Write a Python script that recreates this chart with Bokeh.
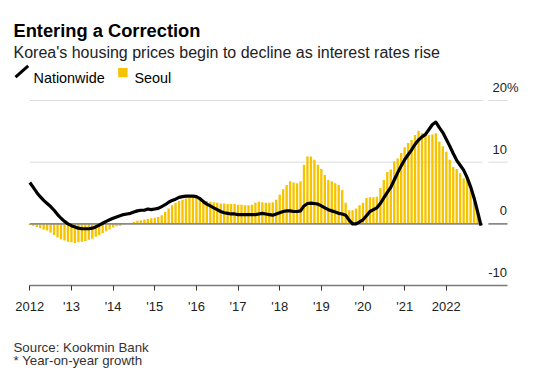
from bokeh.plotting import figure
from bokeh.models import Label, Range1d, FixedTicker, Arrow
from bokeh.core.properties import value
from bokeh.embed import file_html
from bokeh.resources import INLINE

# ---------------- data (YoY %, monthly from Jan 2012) ----------------
start_year = 2012
nationwide = [
    6.7, 5.9, 5.1, 4.4, 3.8, 3.3, 2.8, 2.2, 1.5, 0.9, 0.4, 0.0,
    -0.3, -0.5, -0.7, -0.8, -0.8, -0.8, -0.7, -0.5, -0.2, 0.1, 0.4, 0.65,
    0.9, 1.1, 1.3, 1.5, 1.6, 1.7, 1.9, 2.1, 2.2, 2.2, 2.4, 2.3,
    2.4, 2.5, 2.8, 3.1, 3.5, 3.8, 4.0, 4.3, 4.4, 4.5, 4.5, 4.5,
    4.4, 4.1, 3.6, 3.2, 2.9, 2.6, 2.3, 2.0, 1.8, 1.7, 1.6, 1.6,
    1.5, 1.5, 1.5, 1.5, 1.5, 1.5, 1.6, 1.7, 1.6, 1.5, 1.4, 1.6,
    1.8, 2.0, 2.1, 2.1, 2.0, 2.0, 2.1, 2.9, 3.3, 3.35, 3.3, 3.2,
    2.9, 2.6, 2.3, 2.1, 1.9, 1.7, 1.6, 1.4, 0.6, 0.0, 0.0, 0.3,
    0.65, 1.3, 2.0, 2.3, 2.6, 3.3, 4.2, 5.1, 5.9, 7.1, 8.3, 9.4,
    10.4, 11.2, 12.0, 12.9, 13.6, 14.1, 14.5, 15.3, 16.1, 16.5, 15.6, 14.8,
    13.7, 12.6, 11.4, 10.3, 9.5, 8.7, 7.5, 6.0, 4.2, 2.0, -0.3,
]
seoul = [
    -0.2, -0.3, -0.5, -0.7, -0.9, -1.1, -1.4, -1.8, -2.2, -2.5, -2.7, -2.9,
    -3.0, -3.1, -3.0, -2.9, -2.8, -2.6, -2.4, -2.1, -1.8, -1.5, -1.2, -0.9,
    -0.6, -0.4, -0.3, -0.1, 0.0, 0.1, 0.3, 0.5, 0.6, 0.7, 0.8, 0.9,
    1.0, 1.1, 1.4, 1.9, 2.5, 3.0, 3.4, 3.7, 3.9, 4.1, 4.2, 4.3,
    4.2, 4.0, 3.9, 3.7, 3.6, 3.5, 3.4, 3.3, 3.3, 3.2, 3.2, 3.2,
    3.1, 3.1, 3.0, 3.0, 3.1, 3.4, 3.6, 3.5, 3.4, 3.4, 3.5, 3.9,
    4.7, 5.6, 6.3, 6.9, 6.7, 6.6, 6.9, 9.6, 10.9, 10.9, 10.4, 9.6,
    8.9, 7.9, 7.1, 6.9, 6.6, 6.3, 5.5, 3.4, 2.2, 2.2, 2.5, 3.0,
    3.4, 4.2, 4.3, 4.3, 4.4, 5.8, 7.1, 8.4, 8.8, 10.1, 10.6, 11.5,
    12.4, 13.1, 13.6, 14.4, 15.1, 14.7, 14.4, 14.4, 14.5, 14.7, 13.3, 12.6,
    11.7, 10.4, 9.2, 8.9, 8.2, 7.4, 7.0, 5.5, 3.5, 1.7,
]
tick_years = list(range(2012, 2023))
tick_labels = ["2012", "'13", "'14", "'15", "'16", "'17", "'18", "'19", "'20", "'21", "2022"]
grid_values = [10, 20]
y_label_values = [-10, 0, 10, 20]
y_label_texts = ["-10", "0", "10", "20"]

x_nat = [start_year + i / 12 for i in range(len(nationwide))]
x_seo = [start_year + i / 12 for i in range(len(seoul))]

# ---------------- layout constants (frame = whole figure) ----------------
W, H = 534, 370
PX_YEAR = 41.65          # pixels per year
PX_UNIT = 6.167          # pixels per percentage point
X_ORIGIN_PX = 29.3       # page x of Jan 2012
Y_AXIS_PX = 285.0        # page y of -10 %
x0 = 2012 - X_ORIGIN_PX / PX_YEAR
y0 = -10 - (H - Y_AXIS_PX) / PX_UNIT

FONT = "Liberation Sans"

p = figure(width=W, height=H,
           x_range=Range1d(x0, x0 + W / PX_YEAR),
           y_range=Range1d(y0, y0 + H / PX_UNIT),
           min_border=0, min_border_left=0, min_border_right=0,
           min_border_top=0, min_border_bottom=0,
           y_axis_location=None, toolbar_location=None,
           output_backend="svg")
p.outline_line_color = None
p.xgrid.visible = False
p.ygrid.visible = False
p.background_fill_color = "white"
p.border_fill_color = "white"

# gridlines (with a small gap before the value labels)
gx_a, gx_b, gx_c, gx_d = 2012.0, 2022.87, 2023.01, 2023.47
for gv in grid_values:
    p.segment(x0=[gx_a, gx_c], x1=[gx_b, gx_d], y0=[gv, gv], y1=[gv, gv],
              line_color="#dcdcdc", line_width=1)

# Seoul bars
p.vbar(x=x_seo, top=seoul, bottom=0, width=0.68 / 12,
       fill_color="#F6C300", line_color=None)

# zero line
p.segment(x0=[gx_a, gx_c], x1=[gx_b, gx_d], y0=[0, 0], y1=[0, 0],
          line_color="#8a8a8a", line_width=1.6)

# Nationwide line
p.line(x_nat, nationwide, line_color="black", line_width=3.2, line_join="round")

# value labels on the right
lab_x = 2023.458
p.text(x=[lab_x] * len(y_label_values), y=y_label_values, text=y_label_texts,
       text_align="right", text_baseline="alphabetic", y_offset=-13,
       text_font=value(FONT), text_font_size="13px", text_color="#222222")
p.text(x=[lab_x], y=[20], text=["%"], text_align="left", text_baseline="alphabetic",
       y_offset=-13, text_font=value(FONT), text_font_size="13px", text_color="#222222")

# x axis, fixed at -10 inside the frame
ax = p.xaxis[0]
ax.fixed_location = -10
ax.ticker = FixedTicker(ticks=tick_years)
ax.major_label_overrides = {y: t for y, t in zip(tick_years, tick_labels)}
ax.bounds = (2012, gx_d)
ax.axis_line_color = "#7a7a7a"
ax.axis_line_width = 1.5
ax.major_tick_line_color = "#333333"
ax.major_tick_in = 0
ax.major_tick_out = 5
ax.minor_tick_line_color = None
ax.major_label_text_font = FONT
ax.major_label_text_font_size = "13px"
ax.major_label_text_color = "#222222"
ax.major_label_standoff = 8


# ---------------- header / footer (screen units, frame = whole page) ----------------
def sx(px):
    return px


def sy(py):
    return H - py


def add_text(txt, x, y, size, color="#000000", style="normal"):
    p.add_layout(Label(x=sx(x), y=sy(y), x_units="screen", y_units="screen", text=txt,
                       text_font=FONT, text_font_size=size, text_color=color,
                       text_font_style=style, text_baseline="alphabetic", text_align="left"))


add_text("Entering a Correction", 13, 30, "18.3px", "#000000", "bold")
add_text("Korea's housing prices begin to decline as interest rates rise", 13, 52, "16px", "#222222")
add_text("Nationwide", 33, 77, "14.4px", "#000000")
add_text("Seoul", 134, 77, "14.4px", "#000000")
add_text("Source: Kookmin Bank", 13, 346.6, "13.3px", "#333333")
add_text("* Year-on-year growth", 13, 360, "13.3px", "#333333")

# legend icons
p.add_layout(Arrow(start=None, end=None, x_start=sx(15), y_start=sy(76.7), x_end=sx(27.7), y_end=sy(65.3),
                   start_units="screen", end_units="screen", line_color="black", line_width=3,
                   line_cap="butt"))
p.add_layout(Arrow(start=None, end=None, x_start=sx(117.7), y_start=sy(72.2), x_end=sx(127), y_end=sy(72.2),
                   start_units="screen", end_units="screen", line_color="#F6C300", line_width=9.2,
                   line_cap="butt"))

open("out.html", "w").write(file_html(p, INLINE))
